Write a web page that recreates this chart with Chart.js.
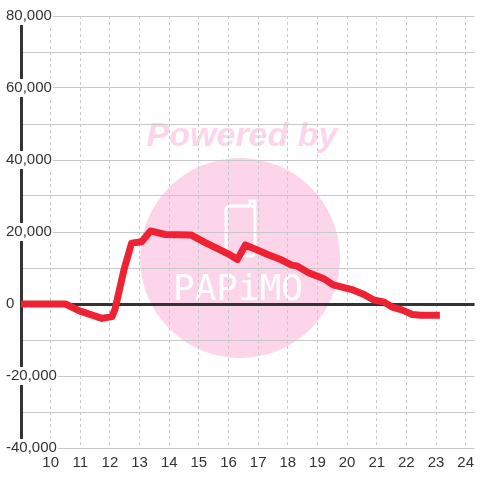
<!DOCTYPE html>
<html>
<head>
<meta charset="utf-8">
<script src="https://cdn.jsdelivr.net/npm/chart.js@4/dist/chart.umd.min.js"></script>
<style>
    html, body { margin: 0; padding: 0; background: #fff; }
    #wrap { width: 480px; height: 480px; }
</style>
</head>
<body>
<div id="wrap"><canvas id="lineChart"></canvas></div>
<script>
// hours of the day and values
const hours = [9.0, 10.5, 10.97, 11.3, 11.73, 12.07, 12.17, 12.47, 12.73, 13.07, 13.37, 13.87,
    14.73, 15.2, 15.63, 15.97, 16.3, 16.57, 16.97, 17.3, 17.8, 18.13, 18.3, 18.7, 19.2, 19.53,
    20.2, 20.53, 20.9, 21.23, 21.53, 21.87, 22.2, 22.5, 23.13];
const values = [0, 0, -1900, -2800, -4000, -3500, -1500, 9400, 16900, 17300, 20300, 19300,
    19200, 17100, 15400, 14000, 12400, 16400, 15000, 13800, 12200, 10800, 10600, 8700, 7100, 5300,
    3900, 2800, 1100, 600, -900, -1700, -2900, -3100, -3100];
const yLabelValues = [-40000, -20000, 0, 20000, 40000, 60000, 80000];
const xLabelValues = [10, 11, 12, 13, 14, 15, 16, 17, 18, 19, 20, 21, 22, 23, 24];

const watermark = {
    id: "watermark",
    beforeDraw: function (chart) {
        const ctx = chart.ctx;
        ctx.save();
        ctx.fillStyle = "#fcd5ea";
        ctx.beginPath();
        ctx.arc(240, 258, 100, 0, Math.PI * 2);
        ctx.fill();

        ctx.font = "italic bold 34px 'Liberation Sans', Arial, sans-serif";
        ctx.textAlign = "center";
        ctx.textBaseline = "alphabetic";
        ctx.fillText("Powered by", 242, 146);

        // phone icon
        ctx.strokeStyle = "#fff";
        ctx.lineWidth = 3;
        ctx.beginPath();
        ctx.roundRect(226, 206, 29, 50, 4);
        ctx.stroke();
        ctx.beginPath();
        ctx.moveTo(250, 206);
        ctx.lineTo(250, 201);
        ctx.lineTo(255, 201);
        ctx.lineTo(255, 208);
        ctx.stroke();

        ctx.fillStyle = "#fff";
        ctx.font = "36px 'DejaVu Sans Mono', monospace";
        ctx.textAlign = "left";
        ctx.fillText("PAPiMO", 173, 300);
        ctx.restore();
    },
};

document.addEventListener("DOMContentLoaded", function () {
    const ctx = document.getElementById("lineChart").getContext("2d");
    new Chart(ctx, {
        type: "line",
        data: {
            datasets: [
                {
                    data: hours.map(function (h, i) { return { x: h, y: values[i] }; }),
                    borderColor: "#ee2233",
                    borderWidth: 7,
                    pointRadius: 0,
                    tension: 0,
                    borderJoinStyle: "round",
                    clip: false,
                },
            ],
        },
        options: {
            responsive: true,
            maintainAspectRatio: false,
            animation: false,
            layout: { padding: { top: 16, right: 0, bottom: 0, left: 0 } },
            plugins: {
                legend: { display: false },
                tooltip: { enabled: false },
            },
            scales: {
                x: {
                    type: "linear",
                    min: 9,
                    max: 24.3,
                    afterFit: function (s) { s.height = 32; },
                    border: { display: false, dash: [3, 3] },
                    grid: {
                        color: "#c8c8c8",
                        lineWidth: 1,
                        drawTicks: false,
                    },
                    ticks: {
                        stepSize: 1,
                        includeBounds: false,
                        padding: 6,
                        color: "#333",
                        font: { size: 15, family: "'Liberation Sans', Arial, sans-serif" },
                        callback: function (v) { return xLabelValues.includes(v) ? String(v) : ""; },
                    },
                },
                y: {
                    min: -40000,
                    max: 80000,
                    afterFit: function (s) { s.width = 21; },
                    border: { display: true, color: "#333", width: 3 },
                    grid: {
                        drawTicks: false,
                        color: function (c) { return c.tick && c.tick.value === 0 ? "#333" : "#c8c8c8"; },
                        lineWidth: function (c) { return c.tick && c.tick.value === 0 ? 3 : 1; },
                    },
                    ticks: {
                        stepSize: 10000,
                        mirror: true,
                        padding: -15,
                        color: "#333",
                        showLabelBackdrop: true,
                        backdropColor: "#fff",
                        backdropPadding: { x: 1, y: 0 },
                        font: { size: 15, family: "'Liberation Sans', Arial, sans-serif" },
                        callback: function (v) {
                            return yLabelValues.includes(v) ? v.toLocaleString("en-US") : "";
                        },
                    },
                },
            },
        },
        plugins: [watermark],
    });
});
</script>
</body>
</html>
